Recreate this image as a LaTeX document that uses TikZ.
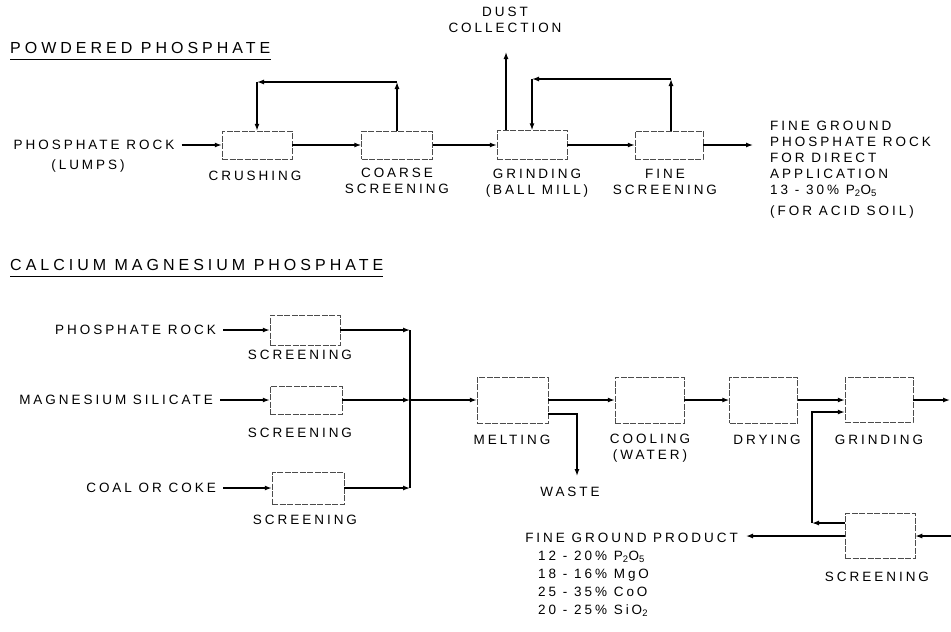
\documentclass[tikz,border=0pt]{standalone}
\usepackage{fontspec}
\usetikzlibrary{arrows.meta,positioning}
\newfontfamily\lettering[LetterSpace=22]{Liberation Sans}
\newfontfamily\headfont[LetterSpace=25]{Liberation Sans}

\tikzset{
  unit/.style={draw=black!70, line width=0.5pt, dash pattern=on 6pt off 1.5pt, inner sep=0pt},
  pipe/.style={line width=1.3pt},
  flow/.style={pipe, -{Latex[length=7pt,width=5pt]}},
  feed/.style={flow, shorten <=7pt},
  lbl/.style={font=\lettering\fontsize{13.5}{16}\selectfont, inner sep=0pt, align=center},
  heading/.style={font=\headfont\fontsize{16}{18}\selectfont, inner sep=0pt, anchor=west},
}

\begin{document}
\begin{tikzpicture}[x=1pt, y=-1pt]
  \useasboundingbox (0,0) rectangle (951,632);

  % powdered phosphate
  \node[heading] (ttlA) at (10,48) {POWDERED PHOSPHATE};
  \draw[line width=1pt] ([yshift=-6pt]ttlA.south west) -- ([yshift=-6pt]ttlA.south east);

  \node[lbl] (rockA) at (94,145) {PHOSPHATE ROCK};
  \node[lbl] (lumps) at (88,166) {(LUMPS)};
  \node[unit, minimum width=70pt, minimum height=28pt] (crush) at (257,145) {};
  \node[unit, minimum width=71pt, minimum height=28pt] (coarse) at (397,145) {};
  \node[unit, minimum width=70pt, minimum height=29pt] (grindA) at (532,145) {};
  \node[unit, minimum width=68pt, minimum height=28pt] (fine) at (669,145) {};
  \node[lbl] (crushlbl) at (255,176) {CRUSHING};
  \node[lbl] (coarselbl) at (397,181) {COARSE\\SCREENING};
  \node[lbl] (grindAlbl) at (537,183) {GRINDING\\(BALL MILL)};
  \node[lbl] (finelbl) at (665,182) {FINE\\SCREENING};
  \node[lbl] (dusttxt) at (505,20) {DUST\\COLLECTION};
  \node[lbl, anchor=north west, align=left] (outtxt) at (770,121)
    {FINE GROUND\\PHOSPHATE ROCK\\FOR DIRECT\\APPLICATION\\13 - 30\% P\textsubscript{2}O\textsubscript{5}\\[5pt](FOR ACID SOIL)};

  \coordinate (outA) at (753,145);
  \coordinate (dustend) at (506,52);
  \coordinate (loopAr) at (397,82);
  \coordinate (loopAl) at (257,82);
  \coordinate (loopBr) at (671,79);
  \coordinate (loopBl) at (532,79);

  \draw[feed] (rockA.east) -- (rockA.east -| crush.west);
  \draw[flow] (crush.east) -- (coarse.west);
  \draw[flow] (coarse.east) -- (grindA.west);
  \draw[flow] (grindA.east) -- (fine.west);
  \draw[flow] (fine.east) -- (outA);
  \draw[flow] (grindA.north -| dustend) -- (dustend);
  \draw[flow] (coarse.north -| loopAr) -- (loopAr);
  \draw[flow] (loopAr) -- (loopAl);
  \draw[flow] (loopAl) -- (loopAl |- crush.north);
  \draw[flow] (fine.north -| loopBr) -- (loopBr);
  \draw[flow] (loopBr) -- (loopBl);
  \draw[flow] (loopBl) -- (loopBl |- grindA.north);

  % calcium magnesium phosphate
  \node[heading] (ttlB) at (10,265) {CALCIUM MAGNESIUM PHOSPHATE};
  \draw[line width=1pt] ([yshift=-6pt]ttlB.south west) -- ([yshift=-6pt]ttlB.south east);

  \node[lbl, anchor=east] (rockB) at (216,330) {PHOSPHATE ROCK};
  \node[lbl, anchor=east] (silicate) at (213,400) {MAGNESIUM SILICATE};
  \node[lbl, anchor=east] (coal) at (216,488) {COAL OR COKE};
  \node[unit, minimum width=70pt, minimum height=30pt] (scrA) at (305,330) {};
  \node[unit, minimum width=72pt, minimum height=28pt] (scrB) at (306,400) {};
  \node[unit, minimum width=72pt, minimum height=32pt] (scrC) at (308,488) {};
  \node[lbl] (scrAlbl) at (300,355) {SCREENING};
  \node[lbl] (scrBlbl) at (300,433) {SCREENING};
  \node[lbl] (scrClbl) at (305,520) {SCREENING};

  \node[unit, minimum width=71pt, minimum height=46pt] (melt) at (512.5,400) {};
  \node[unit, minimum width=69pt, minimum height=46pt] (cool) at (649.5,400) {};
  \node[unit, minimum width=68pt, minimum height=46pt] (dry) at (763.5,400) {};
  \node[unit, minimum width=68pt, minimum height=45pt] (grindB) at (879,400) {};
  \node[unit, minimum width=70pt, minimum height=45pt] (scrD) at (880,536) {};
  \node[lbl] (meltlbl) at (512,440) {MELTING};
  \node[lbl] (coollbl) at (650,448) {COOLING\\(WATER)};
  \node[lbl] (drylbl) at (767,440) {DRYING};
  \node[lbl] (grindBlbl) at (879,440) {GRINDING};
  \node[lbl] (scrDlbl) at (877,577) {SCREENING};
  \node[lbl] (waste) at (570,492) {WASTE};
  \node[lbl, anchor=east] (prodtxt) at (738,538) {FINE GROUND PRODUCT};
  \node[lbl, anchor=north west, align=left] (assay) at (538,551)
    {12 - 20\% P\textsubscript{2}O\textsubscript{5}\\[2pt]18 - 16\% MgO\\[2pt]25 - 35\% CoO\\[2pt]20 - 25\% SiO\textsubscript{2}};

  \coordinate (busA) at (410,330);
  \coordinate (busB) at (410,400);
  \coordinate (busC) at (410,488);
  \coordinate (wasteA) at (577,414);
  \coordinate (wasteB) at (577,476);
  \coordinate (edgeA) at (950,400);
  \coordinate (edgeB) at (951,536);
  \coordinate (recA) at (812,523);
  \coordinate (recB) at (812,412);
  \coordinate (prodtip) at (746,536);

  \draw[feed] (rockB.east) -- (scrA.west);
  \draw[feed] (silicate.east) -- (scrB.west);
  \draw[feed] (coal.east) -- (scrC.west);
  \draw[flow] (scrA.east) -- (busA);
  \draw[flow] (scrB.east) -- (busB);
  \draw[flow] (scrC.east) -- (busC);
  \draw[pipe] (busA) -- (busC);
  \draw[flow] (busB) -- (melt.west);
  \draw[flow] (melt.east) -- (cool.west);
  \draw[flow] (cool.east) -- (dry.west);
  \draw[flow] (dry.east) -- (grindB.west);
  \draw[flow] (melt.east |- wasteA) -- (wasteA) -- (wasteB);
  \draw[flow] (grindB.east) -- (edgeA);
  \draw[flow] (edgeB) -- (scrD.east);
  \draw[flow] (scrD.west |- recA) -- (recA);
  \draw[flow] (recA) -- (recB) -- (recB -| grindB.west);
  \draw[flow] (scrD.west) -- (scrD.west -| prodtip);
\end{tikzpicture}
\end{document}
